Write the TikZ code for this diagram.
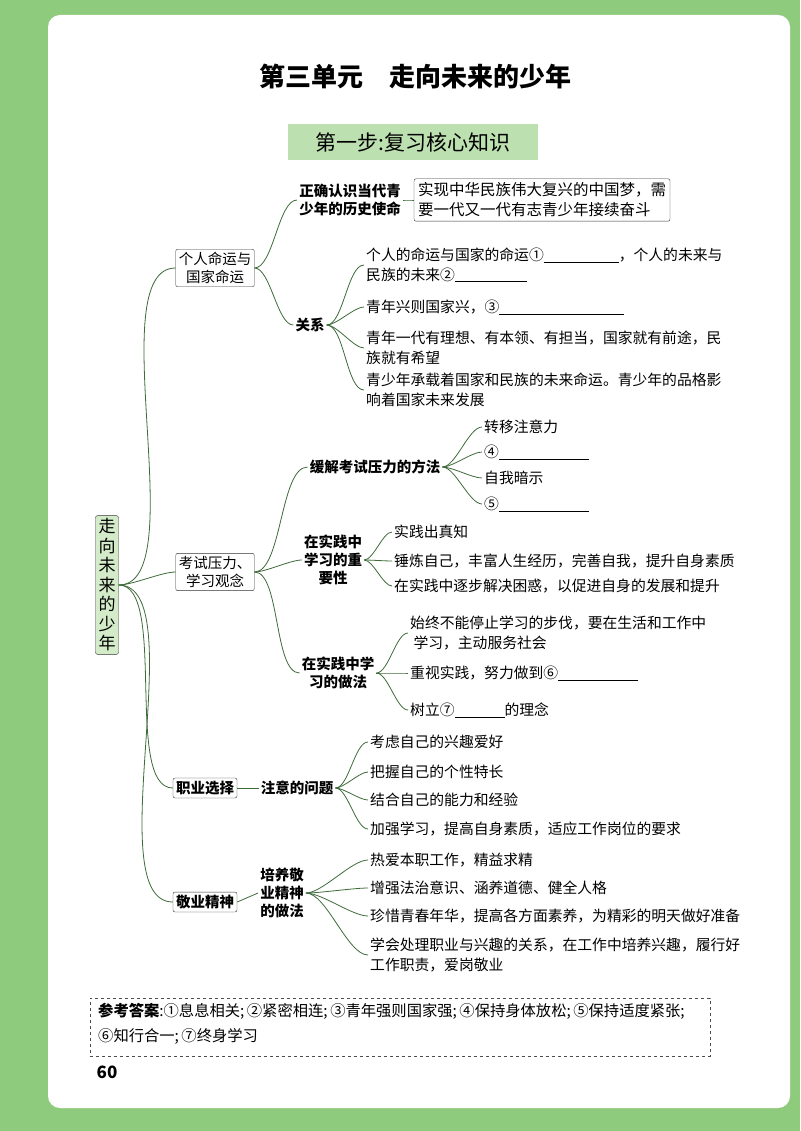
\documentclass[tikz,border=0pt]{standalone}
\usepackage{fontspec}
\setmainfont{Noto Sans CJK SC}
\definecolor{pg}{HTML}{8FCB7C}
\definecolor{lg}{HTML}{D3EBC9}
\definecolor{bn}{HTML}{BDE0B0}
\definecolor{ln}{HTML}{3E6B3A}
\newcommand{\bl}[1]{\rule[-2pt]{#1pt}{0.7pt}}
\tikzset{
 every node/.style={font=\fontsize{14.8pt}{19.5pt}\selectfont, inner sep=2pt},
 bx/.style={draw=black!80, rounded corners=2pt, fill=white, font=\fontsize{14.5pt}{18pt}\selectfont, align=center, inner sep=3pt},
 mid/.style={font=\fontsize{14.5pt}{18pt}\selectfont\bfseries, align=center},
 lf/.style={anchor=west, align=left},
 conn/.style={draw=ln, line width=0.8pt},
}
\newcommand{\cn}[2]{\draw[conn] (#1.east) to[out=0,in=180,looseness=0.6] (#2.west);}
\begin{document}
\begin{tikzpicture}[x=1pt,y=-1pt]
\useasboundingbox (0,0) rectangle (800,1131);
\fill[pg] (0,0) rectangle (800,1131);
\fill[white, rounded corners=12pt] (48,15) rectangle (790,1108);
\node[font=\fontsize{26pt}{30pt}\selectfont\bfseries] (title) at (415,77) {第三单元\quad 走向未来的少年};
\node[fill=bn, minimum width=250pt, minimum height=36pt, font=\fontsize{21pt}{25pt}\selectfont] (banner) at (413,142) {第一步:复习核心知识};
\node[bx, fill=lg, font=\fontsize{17pt}{19.5pt}\selectfont, inner sep=3pt] (root) at (107,585) {走\\向\\未\\来\\的\\少\\年};
\node[bx] (a1) at (215,268) {个人命运与\\国家命运};
\node[bx] (a2) at (215,572) {考试压力、\\学习观念};
\node[bx, font=\fontsize{14.5pt}{18pt}\selectfont\bfseries] (a3) at (205,788) {职业选择};
\node[bx, font=\fontsize{14.5pt}{18pt}\selectfont\bfseries] (a4) at (205,902) {敬业精神};
\foreach \t in {a1,a2,a3,a4}{\draw[conn] (root.east) to[out=0,in=180,looseness=0.6] (\t.west);}
% branch 1
\node[mid] (b1) at (350,200) {正确认识当代青\\少年的历史使命};
\node[draw=black!80, rounded corners=2pt, align=left, font=\fontsize{15.5pt}{20pt}\selectfont, inner sep=4pt] (b1t) at (542,200) {实现中华民族伟大复兴的中国梦，需\\要一代又一代有志青少年接续奋斗};
\node[mid] (b2) at (310,325) {关系};
\cn{a1}{b1}\cn{a1}{b2}
\draw[conn] (b1.east) to[out=0,in=180] (b1t.west);
\node[lf] (c1) at (364,265) {个人的命运与国家的命运①\bl{75}，个人的未来与\\民族的未来②\bl{72}};
\node[lf] (c2) at (364,307) {青年兴则国家兴，③\bl{125}};
\node[lf] (c3) at (364,348) {青年一代有理想、有本领、有担当，国家就有前途，民\\族就有希望};
\node[lf] (c4) at (364,390) {青少年承载着国家和民族的未来命运。青少年的品格影\\响着国家未来发展};
\foreach \t in {c1,c2,c3,c4}{\draw[conn] (b2.east) to[out=0,in=180,looseness=0.6] (\t.west);}
% branch 2
\node[mid] (d1) at (375,467) {缓解考试压力的方法};
\node[mid] (d2) at (333,560) {在实践中\\学习的重\\要性};
\node[mid] (d3) at (338,673) {在实践中学\\习的做法};
\cn{a2}{d1}\cn{a2}{d2}\cn{a2}{d3}
\node[lf] (e1) at (482,427) {转移注意力};
\node[lf] (e2) at (482,452) {④\bl{90}};
\node[lf] (e3) at (482,478) {自我暗示};
\node[lf] (e4) at (482,504) {⑤\bl{90}};
\foreach \t in {e1,e2,e3,e4}{\draw[conn] (d1.east) to[out=0,in=180,looseness=0.6] (\t.west);}
\node[lf] (f1) at (392,532) {实践出真知};
\node[lf] (f2) at (392,561) {锤炼自己，丰富人生经历，完善自我，提升自身素质};
\node[lf] (f3) at (392,586) {在实践中逐步解决困惑，以促进自身的发展和提升};
\foreach \t in {f1,f2,f3}{\draw[conn] (d2.east) to[out=0,in=180,looseness=0.6] (\t.west);}
\node[lf] (g1) at (408,633) {始终不能停止学习的步伐，要在生活和工作中\\\ 学习，主动服务社会};
\node[lf] (g2) at (408,673) {重视实践，努力做到⑥\bl{80}};
\node[lf] (g3) at (408,710) {树立⑦\bl{50}的理念};
\foreach \t in {g1,g2,g3}{\draw[conn] (d3.east) to[out=0,in=180,looseness=0.6] (\t.west);}
% branch 3
\node[mid] (h1) at (297,788) {注意的问题};
\draw[conn] (a3.east) -- (h1.west);
\node[lf] (i1) at (368,742) {考虑自己的兴趣爱好};
\node[lf] (i2) at (368,772) {把握自己的个性特长};
\node[lf] (i3) at (368,800) {结合自己的能力和经验};
\node[lf] (i4) at (368,829) {加强学习，提高自身素质，适应工作岗位的要求};
\foreach \t in {i1,i2,i3,i4}{\draw[conn] (h1.east) to[out=0,in=180,looseness=0.6] (\t.west);}
% branch 4
\node[mid] (j1) at (282,893) {培养敬\\业精神\\的做法};
\draw[conn] (a4.east) -- (j1.west);
\node[lf] (k1) at (368,860) {热爱本职工作，精益求精};
\node[lf] (k2) at (368,888) {增强法治意识、涵养道德、健全人格};
\node[lf] (k3) at (368,916) {珍惜青春年华，提高各方面素养，为精彩的明天做好准备};
\node[lf] (k4) at (368,955) {学会处理职业与兴趣的关系，在工作中培养兴趣，履行好\\工作职责，爱岗敬业};
\foreach \t in {k1,k2,k3,k4}{\draw[conn] (j1.east) to[out=0,in=180,looseness=0.6] (\t.west);}
% answers
\node[draw=black!70, dashed, minimum width=620pt, minimum height=58pt] (ans) at (400,1027) {};
\node[anchor=north west, align=left, font=\fontsize{15.3pt}{25pt}\selectfont] (anst) at (96,1001) {\textbf{参考答案}:①息息相关;\,②紧密相连;\,③青年强则国家强;\,④保持身体放松;\,⑤保持适度紧张;\\⑥知行合一;\,⑦终身学习};
\node[font=\fontsize{17pt}{20pt}\selectfont\bfseries] (pn) at (107,1072) {60};
\end{tikzpicture}
\end{document}
